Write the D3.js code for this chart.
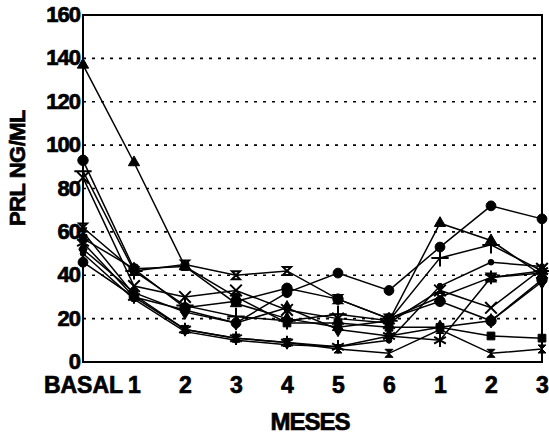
<!DOCTYPE html>
<html>
<head>
<meta charset="utf-8">
<script src="https://cdn.jsdelivr.net/npm/d3@7"></script>
<style>
  body { margin: 0; background: #fff; }
  text { font-family: "Liberation Sans", Arial, sans-serif; font-weight: bold; fill: #000; stroke: #000; stroke-width: 0.7px; }
</style>
</head>
<body>
<div id="chart"></div>
<script>
// x categories and y ticks
var months = ["BASAL", "1", "2", "3", "4", "5", "6", "1 ", "2 ", "3 "];
var yTicks = [0, 20, 40, 60, 80, 100, 120, 140, 160];

// one array per patient, PRL ng/ml
var serTriangle = [137, 92, 44, 27, 20, 16, 19, 64, 56, 40];
var serDiamondCircle = [46, 30, 24, 18, 32, 41, 33, 53, 72, 66];
var serCircle = [93, 43, 25, 28, 34, 29, 20, 28, 19, 38];
var serPlus = [88, 42, 26, 21, 19, 22, 19, 48, 54, 42];
var serTimes = [85, 35, 30, 33, 24, 20, 18, 33, 25, 43];
var serHourglass = [62, 42, 45, 40, 42, 29, 20, 30, 39, 41];
var serSquare = [57, 43, 44, 30, 18, 18, 16, 16, 12, 11];
var serStar = [55, 30, 15, 11, 9, 7, 12, 10, 39, 42];
var serDot = [50, 29, 14, 10, 8, 7, 10, 35, 46, 44];
var serHourglass2 = [60, 31, 15, 11, 9, 6, 4, 15, 4, 6];
var serDiamond = [52, 32, 23, 18, 25, 15, 12, 16, 19, 37];

var svgWidth = 549;
var svgHeight = 435;
var margin = { top: 15, right: 7, bottom: 73, left: 83 };
var width = svgWidth - margin.left - margin.right;
var height = svgHeight - margin.top - margin.bottom;

var svg = d3.select("#chart")
    .append("svg")
    .attr("width", svgWidth)
    .attr("height", svgHeight);

var chartGroup = svg.append("g")
    .attr("transform", `translate(${margin.left}, ${margin.top})`);

var xScale = d3.scalePoint()
    .domain(months)
    .range([0, width]);

var yScale = d3.scaleLinear()
    .domain([0, 160])
    .range([height, 0]);

// dotted grid
chartGroup.selectAll(".grid")
    .data(yTicks.filter(d => d > 0 && d < 160))
    .enter()
    .append("line")
    .attr("x1", 0)
    .attr("x2", width)
    .attr("y1", d => yScale(d))
    .attr("y2", d => yScale(d))
    .attr("stroke", "#000")
    .attr("stroke-width", 1.6)
    .attr("stroke-dasharray", "3,6");

// frame
chartGroup.append("rect")
    .attr("width", width)
    .attr("height", height)
    .attr("fill", "none")
    .attr("stroke", "#000")
    .attr("stroke-width", 2);

var yAxis = d3.axisLeft(yScale).tickValues(yTicks).tickSize(0).tickPadding(3);
chartGroup.append("g")
    .call(yAxis)
    .call(g => g.select(".domain").remove())
    .selectAll("text")
    .attr("font-size", "22px")
    .attr("font-family", null)
    .attr("dy", "0.3em")
    .style("letter-spacing", "-1px");

var xAxis = d3.axisBottom(xScale).tickSize(0).tickPadding(17);
chartGroup.append("g")
    .attr("transform", `translate(0, ${height})`)
    .call(xAxis)
    .call(g => g.select(".domain").remove())
    .selectAll("text")
    .attr("font-size", "23px")
    .attr("font-family", null)
    .attr("dy", "0.62em");

// hourglass marker
var hourglass = {
  draw: function(context, size) {
    var r = Math.sqrt(size) / 2;
    context.moveTo(-r, -r);
    context.lineTo(r, -r);
    context.lineTo(-r, r);
    context.lineTo(r, r);
    context.closePath();
  }
};

var seriesList = [
  { values: serTriangle, symbol: d3.symbolTriangle, size: 55, fill: true },
  { values: serDiamondCircle, symbol: d3.symbolCircle, size: 75, fill: true },
  { values: serCircle, symbol: d3.symbolCircle, size: 85, fill: true },
  { values: serPlus, symbol: d3.symbolPlus, size: 100, fill: false },
  { values: serTimes, symbol: d3.symbolTimes, size: 90, fill: false },
  { values: serHourglass, symbol: hourglass, size: 65, fill: false },
  { values: serSquare, symbol: d3.symbolSquare, size: 60, fill: true },
  { values: serStar, symbol: d3.symbolAsterisk, size: 130, fill: false },
  { values: serDot, symbol: d3.symbolCircle, size: 25, fill: true },
  { values: serHourglass2, symbol: hourglass, size: 65, fill: true },
  { values: serDiamond, symbol: d3.symbolDiamond, size: 60, fill: true }
];

var line = d3.line()
    .x((d, i) => xScale(months[i]))
    .y(d => yScale(d));

seriesList.forEach(function(s) {
  chartGroup.append("path")
      .datum(s.values)
      .attr("d", line)
      .attr("fill", "none")
      .attr("stroke", "#000")
      .attr("stroke-width", 1.5);

  chartGroup.selectAll(null)
      .data(s.values)
      .enter()
      .append("path")
      .attr("transform", (d, i) => `translate(${xScale(months[i])}, ${yScale(d)})`)
      .attr("d", d3.symbol().type(s.symbol).size(s.size))
      .attr("fill", s.fill ? "#000" : "none")
      .attr("stroke", "#000")
      .attr("stroke-width", s.fill ? 1 : 2);
});

// axis titles
svg.append("text")
    .attr("transform", "translate(25, 168) rotate(-90)")
    .attr("text-anchor", "middle")
    .attr("font-size", "22px")
    .style("letter-spacing", "-0.5px")
    .text("PRL NG/ML");

svg.append("text")
    .attr("x", 310)
    .attr("y", 430)
    .attr("text-anchor", "middle")
    .attr("font-size", "24px")
    .style("letter-spacing", "-1px")
    .text("MESES");
</script>
</body>
</html>
